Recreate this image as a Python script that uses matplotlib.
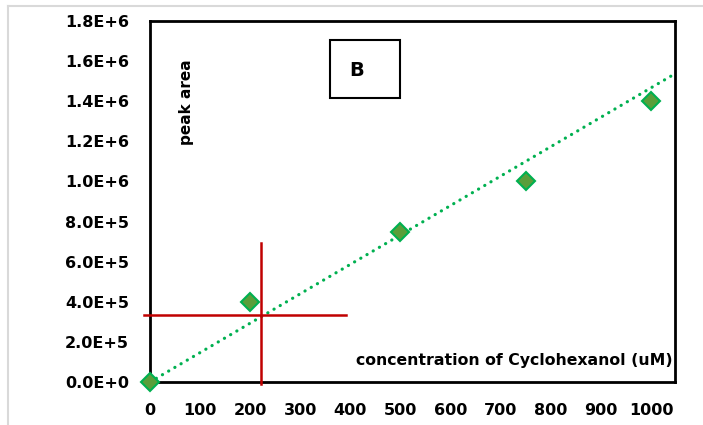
import matplotlib.pyplot as plt
from matplotlib.lines import Line2D
from matplotlib.patches import Rectangle
from matplotlib.ticker import FuncFormatter

plt.rcParams['font.family'] = ['DejaVu Sans']

# calibration points
conc = [0, 200, 500, 750, 1000]
peak_area = [0, 4.0e5, 7.5e5, 1.0e6, 1.4e6]

# dotted trendline
trend_x = [0, 1050]
trend_y = [0, 1.54e6]

# red read-off cross
cross_h_x = [-12, 391]
cross_h_y = [3.34e5, 3.34e5]
cross_v_x = [222, 222]
cross_v_y = [6.93e5, -1.0e4]

x_ticks = [0, 100, 200, 300, 400, 500, 600, 700, 800, 900, 1000]
y_ticks = [0, 2e5, 4e5, 6e5, 8e5, 1.0e6, 1.2e6, 1.4e6, 1.6e6, 1.8e6]

fig = plt.figure(figsize=(7.03, 4.25), dpi=100)
ax = fig.add_axes([0.2134, 0.1012, 0.7468, 0.8494])

ax.plot(trend_x, trend_y, color='#00b050', lw=2.3,
        linestyle=(0, (0.05, 2.2)), dash_capstyle='round', zorder=2)
ax.plot(conc, peak_area, 'D', ms=9, mfc='#5a9e3a', mec='#00b050',
        mew=1.5, clip_on=False, zorder=4)

ax.plot(cross_h_x, cross_h_y, color='#c00000', lw=1.8, clip_on=False, zorder=3)
ax.plot(cross_v_x, cross_v_y, color='#c00000', lw=1.8, clip_on=False, zorder=3)

ax.set_xlim(0, 1048)
ax.set_ylim(0, 1.8e6)
ax.set_xticks(x_ticks)
ax.set_yticks(y_ticks)


def sci(v, pos):
    if v == 0:
        return '0.0E+0'
    exp = len(str(int(v))) - 1
    return '{:.1f}E+{}'.format(v / 10 ** exp, exp)


ax.yaxis.set_major_formatter(FuncFormatter(sci))
ax.tick_params(length=0, labelsize=11.5)
ax.tick_params(axis='y', pad=15)
ax.tick_params(axis='x', pad=15)
for lab in ax.get_xticklabels() + ax.get_yticklabels():
    lab.set_fontweight('bold')

for s in ax.spines.values():
    s.set_linewidth(2)
    s.set_color('black')

ax.text(0.069, 0.776, 'peak area', transform=ax.transAxes, rotation=90,
        ha='center', va='center', fontsize=11, fontweight='bold')
ax.text(0.995, 0.06, 'concentration of Cyclohexanol (uM)', transform=ax.transAxes,
        ha='right', va='center', fontsize=11.3, fontweight='bold')

ax.add_patch(Rectangle((0.343, 0.787), 0.133, 0.160, transform=ax.transAxes,
                       fill=False, ec='black', lw=1.5))
ax.text(0.393, 0.862, 'B', transform=ax.transAxes, ha='center', va='center',
        fontsize=14, fontweight='bold')

# light grey chart-area border (top and left)
fig.lines.append(Line2D([8 / 703, 1], [1 - 6 / 425, 1 - 6 / 425],
                        transform=fig.transFigure, color='#d9d9d9', lw=1.5))
fig.lines.append(Line2D([8 / 703, 8 / 703], [0, 1 - 6 / 425],
                        transform=fig.transFigure, color='#d9d9d9', lw=1.5))

fig.savefig('out.png', dpi=100)
